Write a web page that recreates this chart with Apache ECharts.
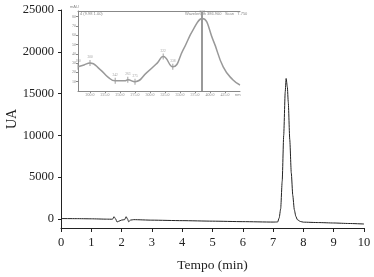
<!DOCTYPE html>
<html>
<head>
<meta charset="utf-8">
<script src="https://cdn.jsdelivr.net/npm/echarts@6/dist/echarts.min.js"></script>
<style>
  html, body { margin: 0; padding: 0; background: #fff; }
  #chart { width: 374px; height: 277px; }
</style>
</head>
<body>
<div id="chart"></div>
<script>
// chromatogram (min, UA)
const tempo = [0, 0.5, 1.0, 1.5, 1.7, 1.75, 1.8, 1.85, 1.9, 2.0, 2.1, 2.15, 2.2, 2.23, 2.3, 2.4, 3, 4, 5, 6, 7,
  7.15, 7.2, 7.25, 7.3, 7.35, 7.4, 7.43, 7.47, 7.5, 7.55, 7.6, 7.65, 7.7, 7.75, 7.8, 7.9, 8, 8.5, 9, 9.5, 10];
const ua = [30, 20, 0, -40, -50, 250, 0, -380, -300, -150, -100, 250, -50, -350, -150, -100, -160, -220, -280, -340, -390,
  -380, 100, 1200, 4500, 10000, 15200, 16800, 15800, 14000, 9500, 5500, 2800, 1100, 300, -100, -320, -400, -450, -500, -560, -620];
const yTicks = [0, 5000, 10000, 15000, 20000, 25000];

// inset UV spectrum (nm, mAU)
const lambda = [180, 190, 200, 217, 230, 242, 258, 263, 275, 295, 312, 322, 338, 355, 372, 387, 405, 422, 438, 450];
const absorb = [26, 28, 30, 23, 15, 11, 11, 12, 10, 20, 30, 37, 26, 44, 66, 78, 55, 26, 12, 6.5];
const peakNm = [180, 200, 242, 263, 275, 322, 338, 387];
const peakAbs = [26, 30, 11, 12, 10, 37, 26, 78];
const insetXTicks = [200, 225, 250, 275, 300, 325, 350, 375, 400, 425];
const insetYTicks = [10, 20, 30, 40, 50, 60, 70, 80];

const chart = echarts.init(document.getElementById('chart'));
const serif = 'Liberation Serif';
const ink = '#222';
const faint = '#888';

const option = {
  animation: false,
  textStyle: { fontFamily: serif },
  grid: [
    { left: 61, top: 10, right: 10, bottom: 49, outerBoundsMode: 'none', containLabel: false },
    { left: 78, top: 11, width: 162, height: 80, outerBoundsMode: 'none', containLabel: false }
  ],
  xAxis: [
    {
      type: 'value', gridIndex: 0, min: 0, max: 10, interval: 1,
      name: 'Tempo (min)', nameLocation: 'middle', nameGap: 30, nameMoveOverlap: false,
      nameTextStyle: { fontFamily: serif, fontSize: 13.5, color: ink },
      axisLine: { onZero: false, lineStyle: { color: ink, width: 1 } },
      axisTick: { length: 4, lineStyle: { color: ink } },
      axisLabel: { fontFamily: serif, fontSize: 12.5, color: ink, margin: 8 },
      splitLine: { show: false }
    },
    {
      type: 'value', gridIndex: 1, min: 180, max: 450,
      axisLine: { onZero: false, lineStyle: { color: faint, width: 1 } },
      axisTick: { customValues: insetXTicks, length: 2, lineStyle: { color: faint } },
      axisLabel: { customValues: insetXTicks, fontSize: 4, color: faint, margin: 2,
        formatter: v => v.toFixed(1) },
      splitLine: { show: false }
    },
    {
      type: 'value', gridIndex: 1, min: 180, max: 450, position: 'top',
      axisLine: { onZero: false, lineStyle: { color: faint, width: 1 } },
      axisTick: { show: false }, axisLabel: { show: false }, splitLine: { show: false }
    }
  ],
  yAxis: [
    {
      type: 'value', gridIndex: 0, min: -1100, max: 25000,
      name: 'UA', nameLocation: 'middle', nameGap: 42, nameMoveOverlap: false,
      nameTextStyle: { fontFamily: serif, fontSize: 14, color: ink },
      axisLine: { show: true, onZero: false, lineStyle: { color: ink, width: 1 } },
      axisTick: { show: true, customValues: yTicks, length: 3, lineStyle: { color: ink } },
      axisLabel: { customValues: yTicks, fontFamily: serif, fontSize: 12.5, color: ink, margin: 7,
        formatter: v => String(v) },
      splitLine: { show: false }
    },
    {
      type: 'value', gridIndex: 1, min: 0, max: 86,
      axisLine: { show: true, onZero: false, lineStyle: { color: faint, width: 1 } },
      axisTick: { show: true, customValues: insetYTicks, length: 2, lineStyle: { color: faint } },
      axisLabel: { customValues: insetYTicks, fontSize: 4, color: faint, margin: 2 },
      splitLine: { show: false }
    }
  ],
  graphic: [
    { type: 'text', left: 80, top: 12, style: { text: '4 (9.98 1.00)', fontSize: 4, fill: faint } },
    { type: 'text', left: 185, top: 12, style: { text: 'Wavelength 386.900   Scan   7.750', fontSize: 4, fill: faint } },
    { type: 'text', left: 70, top: 5, style: { text: 'mAU', fontSize: 4, fill: faint } },
    { type: 'text', left: 235, top: 93, style: { text: 'nm', fontSize: 4, fill: faint } }
  ],
  series: [
    {
      type: 'line', xAxisIndex: 0, yAxisIndex: 0,
      data: tempo.map((t, i) => [t, ua[i]]),
      showSymbol: false, smooth: 0.2, smoothMonotone: 'x',
      lineStyle: { color: ink, width: 1 }
    },
    {
      type: 'line', xAxisIndex: 1, yAxisIndex: 1,
      data: lambda.map((l, i) => [l, absorb[i]]),
      showSymbol: false, smooth: 0.5,
      lineStyle: { color: '#999', width: 1.5 },
      markLine: {
        silent: true, symbol: 'none', label: { show: false },
        lineStyle: { color: '#999', width: 2, type: 'solid' },
        data: [{ xAxis: 387 }]
      }
    },
    {
      type: 'scatter', xAxisIndex: 1, yAxisIndex: 1,
      data: peakNm.map((l, i) => [l, peakAbs[i]]),
      symbol: 'rect', symbolSize: [1, 6],
      itemStyle: { color: faint },
      label: { show: true, position: 'top', distance: 1, fontSize: 3.5, color: faint,
        formatter: p => p.value[0].toFixed(0) }
    }
  ]
};
chart.setOption(option);
</script>
</body>
</html>
